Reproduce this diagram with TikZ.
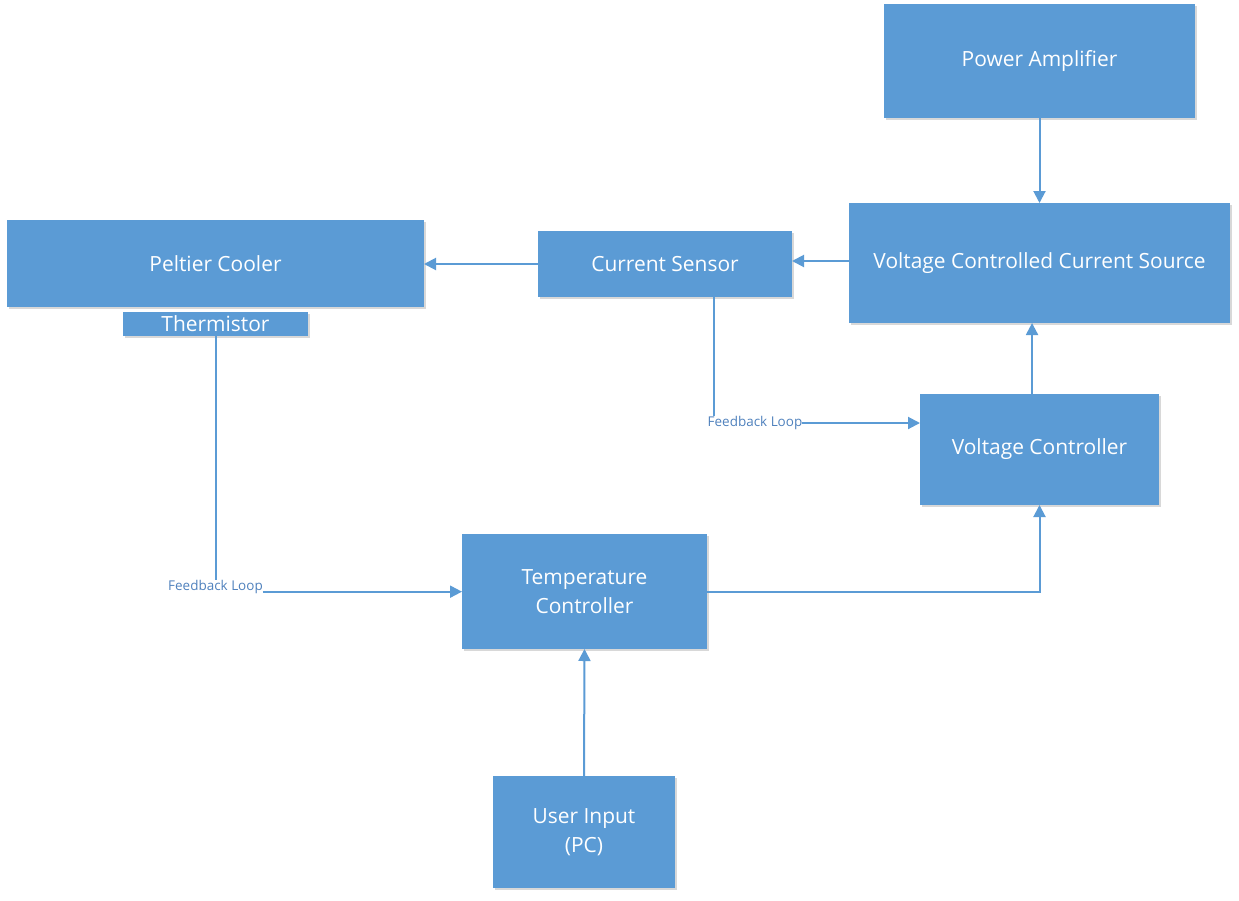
\documentclass[tikz,border=0pt]{standalone}
\usepackage{fontspec}
\setmainfont{Open Sans}
\usetikzlibrary{arrows.meta,shadows}
\definecolor{boxblue}{HTML}{5B9BD5}
\definecolor{lineblue}{HTML}{5B9BD5}
\definecolor{lblblue}{HTML}{4F81BD}
\begin{document}
\begin{tikzpicture}[x=0.75pt,y=-0.75pt,
  box/.style={fill=boxblue, draw=none, inner sep=0pt, outer sep=0pt, text=white,
    font=\fontsize{15.7}{21.8}\selectfont, align=center,
    drop shadow={shadow xshift=1.5pt, shadow yshift=-1.5pt, opacity=0.25, fill=black!60}},
  arr/.style={draw=lineblue, line width=1.5pt, -{Triangle[length=9pt,width=9pt]}},
  ln/.style={draw=lineblue, line width=1.5pt},
  lbl/.style={text=lblblue, inner sep=0pt, outer sep=0pt, font=\fontsize{10.1}{12}\selectfont}]
\useasboundingbox[fill=white] (0,0) rectangle (1239,900);

\node[box, minimum width=233.25pt, minimum height=85.5pt] (pa) at (1039.5,61) {Power Amplifier};
\node[box, minimum width=285.75pt, minimum height=90pt] (vccs) at (1039.5,263) {Voltage Controlled Current Source};
\node[box, minimum width=312.75pt, minimum height=65.25pt] (pc) at (215.5,263.5) {Peltier Cooler};
\node[box, minimum width=138.75pt, minimum height=18pt] (th) at (215.5,324) {Thermistor};
\node[box, minimum width=190.5pt, minimum height=49.5pt] (cs) at (665,264) {Current Sensor};
\node[box, minimum width=179.25pt, minimum height=83.25pt] (vc) at (1039.5,449.5) {Voltage Controller};
\node[box, minimum width=183.75pt, minimum height=86.25pt] (tc) at (584.5,591.5) {Temperature\\Controller};
\node[box, minimum width=136.5pt, minimum height=84pt] (ui) at (584,832) {User Input\\(PC)};

\node[lbl] (fb1) at (755,423) {Feedback Loop};
\node[lbl] (fb2) at (215.5,587) {Feedback Loop};
\coordinate (k1) at (714,0);
\coordinate (k2) at (0,261);

\draw[arr] (pa.south) -- (vccs.north);
\draw[arr] (vccs.west |- k2) -- (cs.east |- k2);
\draw[arr] (cs.west) -- (pc.east |- cs.west);
\draw[arr] ([xshift=-5.6pt]vc.north) -- ([xshift=-5.6pt]vc.north |- vccs.south);
\draw[ln] (cs.south -| k1) -- (fb1.north -| k1);
\draw[arr] (fb1.east) -- (vc.west |- fb1.east);
\draw[ln] (th.south) -- (fb2.north);
\draw[arr] ([yshift=-3.5pt]fb2.east) -- ([yshift=-3.5pt]tc.west |- fb2.east);
\draw[arr] (tc.east) -| (vc.south);
\draw[arr] (ui.north) -- (tc.south);
\end{tikzpicture}
\end{document}
